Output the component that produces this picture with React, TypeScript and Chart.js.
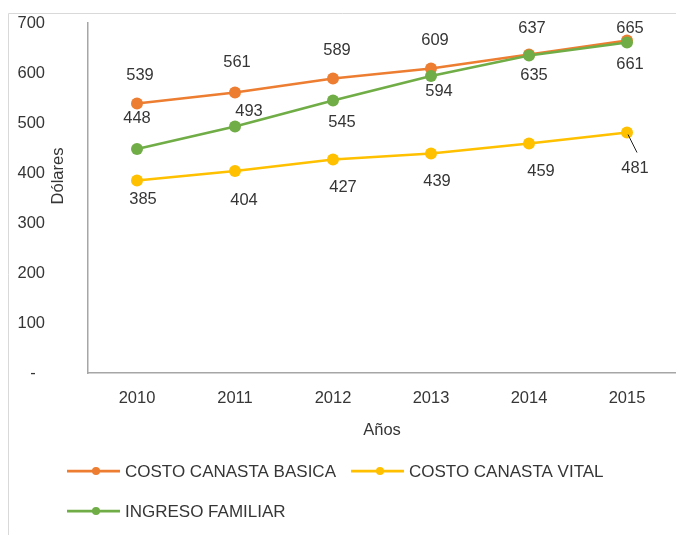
import React, { useEffect, useRef } from "react";
import { Chart, registerables } from "chart.js";

Chart.register(...registerables);

// ---- data ----
const years = ["2010", "2011", "2012", "2013", "2014", "2015"];
const canastaBasica = [539, 561, 589, 609, 637, 665];
const canastaVital = [385, 404, 427, 439, 459, 481];
const ingresoFamiliar = [448, 493, 545, 594, 635, 661];
const seriesNames = ["COSTO CANASTA BASICA", "COSTO CANASTA VITAL", "INGRESO FAMILIAR"];
const yTickValues = [0, 100, 200, 300, 400, 500, 600, 700];
const xTitle = "Años";
const yTitle = "Dólares";

// ---- styles ----
const colors = ["#ED7D31", "#FFC000", "#70AD47"];
const textColor = "#363636";
const axisColor = "#A6A6A6";
const fontFamily = "'Liberation Sans', Arial, sans-serif";
const labelOffsets = [
  { dx: [3, 2, 4, 4, 3, 3], dy: [-28, -30, -28, -28, -26, -12] },
  { dx: [6, 9, 10, 6, 12, 8], dy: [19, 29, 28, 28, 28, 36] },
  { dx: [0, 14, 9, 8, 5, 3], dy: [-31, -15, 22, 15, 20, 22] },
];

const decorPlugin = {
  id: "decor",
  beforeDraw(chart: any) {
    const ctx = chart.ctx;
    ctx.save();
    ctx.strokeStyle = "#D9D9D9";
    ctx.lineWidth = 1;
    ctx.beginPath();
    ctx.moveTo(8.5, 535);
    ctx.lineTo(8.5, 13.5);
    ctx.lineTo(676, 13.5);
    ctx.stroke();
    ctx.restore();
  },
  afterDraw(chart: any) {
    const ctx = chart.ctx;
    ctx.save();
    // y title
    ctx.fillStyle = textColor;
    ctx.font = `16.5px ${fontFamily}`;
    ctx.textAlign = "center";
    ctx.textBaseline = "middle";
    ctx.translate(58, 176);
    ctx.rotate(-Math.PI / 2);
    ctx.fillText(yTitle, 0, 0);
    ctx.restore();

    // data labels
    ctx.save();
    ctx.font = `16.5px ${fontFamily}`;
    ctx.fillStyle = textColor;
    ctx.textAlign = "center";
    ctx.textBaseline = "middle";
    chart.data.datasets.forEach((ds: any, di: number) => {
      const meta = chart.getDatasetMeta(di);
      const off = labelOffsets[ds.seriesIndex];
      meta.data.forEach((pt: any, i: number) => {
        const v = ds.data[i];
        ctx.fillText(String(v), pt.x + off.dx[i], pt.y + off.dy[i]);
        if (ds.seriesIndex === 1 && i === ds.data.length - 1) {
          ctx.save();
          ctx.strokeStyle = "#222";
          ctx.lineWidth = 1;
          ctx.beginPath();
          ctx.moveTo(pt.x + 1, pt.y + 2);
          ctx.lineTo(pt.x + 10, pt.y + 20);
          ctx.stroke();
          ctx.restore();
        }
      });
    });
    ctx.restore();

    // legend
    ctx.save();
    ctx.font = `17px ${fontFamily}`;
    ctx.textBaseline = "middle";
    ctx.textAlign = "left";
    const rows = [[0, 1], [2]];
    const rowY = [471, 511];
    rows.forEach((row, r) => {
      let x = 67;
      const y = rowY[r];
      row.forEach((si) => {
        ctx.strokeStyle = colors[si];
        ctx.lineWidth = 2.75;
        ctx.beginPath();
        ctx.moveTo(x, y);
        ctx.lineTo(x + 53, y);
        ctx.stroke();
        ctx.fillStyle = colors[si];
        ctx.beginPath();
        ctx.arc(x + 29, y, 4, 0, Math.PI * 2);
        ctx.fill();
        ctx.fillStyle = textColor;
        ctx.fillText(seriesNames[si], x + 58, y + 1);
        x += 58 + ctx.measureText(seriesNames[si]).width + 15;
      });
    });
    ctx.restore();
  },
};

export default function App() {
  const ref = useRef<HTMLCanvasElement>(null);
  useEffect(() => {
    if (!ref.current) return;
    const series = [canastaBasica, canastaVital, ingresoFamiliar];
    const drawOrder = [1, 2, 0];
    const chart = new Chart(ref.current, {
      type: "line",
      data: {
        labels: years,
        datasets: series.map((d, i) => ({
          label: seriesNames[i],
          data: d,
          seriesIndex: i,
          order: drawOrder[i],
          borderColor: colors[i],
          backgroundColor: colors[i],
          pointBackgroundColor: colors[i],
          pointBorderColor: colors[i],
          pointBorderWidth: 0,
          pointRadius: 6,
          borderWidth: 2.75,
          tension: 0,
          fill: false,
        })) as any,
      },
      options: {
        responsive: false,
        animation: false,
        devicePixelRatio: 1,
        layout: { autoPadding: false, padding: { left: 0, right: 0, top: 23, bottom: 92 } },
        plugins: {
          legend: { display: false },
          tooltip: { enabled: false },
          title: { display: false },
        },
        scales: {
          x: {
            type: "category",
            offset: true,
            grid: { display: false, drawTicks: false },
            border: { display: true, color: axisColor, width: 1.5 },
            ticks: {
              padding: 16,
              color: textColor,
              font: { family: fontFamily, size: 16.5 },
              maxRotation: 0,
            },
            title: {
              display: true,
              text: xTitle,
              color: textColor,
              font: { family: fontFamily, size: 16.5 },
              padding: { top: 0, bottom: 3 },
            },
            afterFit: (s: any) => {
              s.height = 70;
              s.paddingLeft = 0;
              s.paddingRight = 0;
            },
          },
          y: {
            min: 0,
            max: 700,
            afterBuildTicks: (s: any) => {
              s.ticks = yTickValues.map((v) => ({ value: v }));
            },
            grid: { display: false, drawTicks: false },
            border: { display: true, color: axisColor, width: 1.5 },
            ticks: {
              padding: 43,
              color: textColor,
              font: { family: fontFamily, size: 16.5 },
              callback: (v: any) => (Number(v) === 0 ? "-  " : String(v)),
            },
            afterFit: (s: any) => {
              s.width = 88;
              s.paddingTop = 0;
              s.paddingBottom = 0;
            },
          },
        },
      },
      plugins: [decorPlugin],
    } as any);
    return () => chart.destroy();
  }, []);
  return (
    <div style={{ position: "absolute", left: 0, top: 0, width: 676, height: 535, background: "#fff" }}>
      <canvas ref={ref} width={676} height={535} style={{ display: "block" }} />
    </div>
  );
}
